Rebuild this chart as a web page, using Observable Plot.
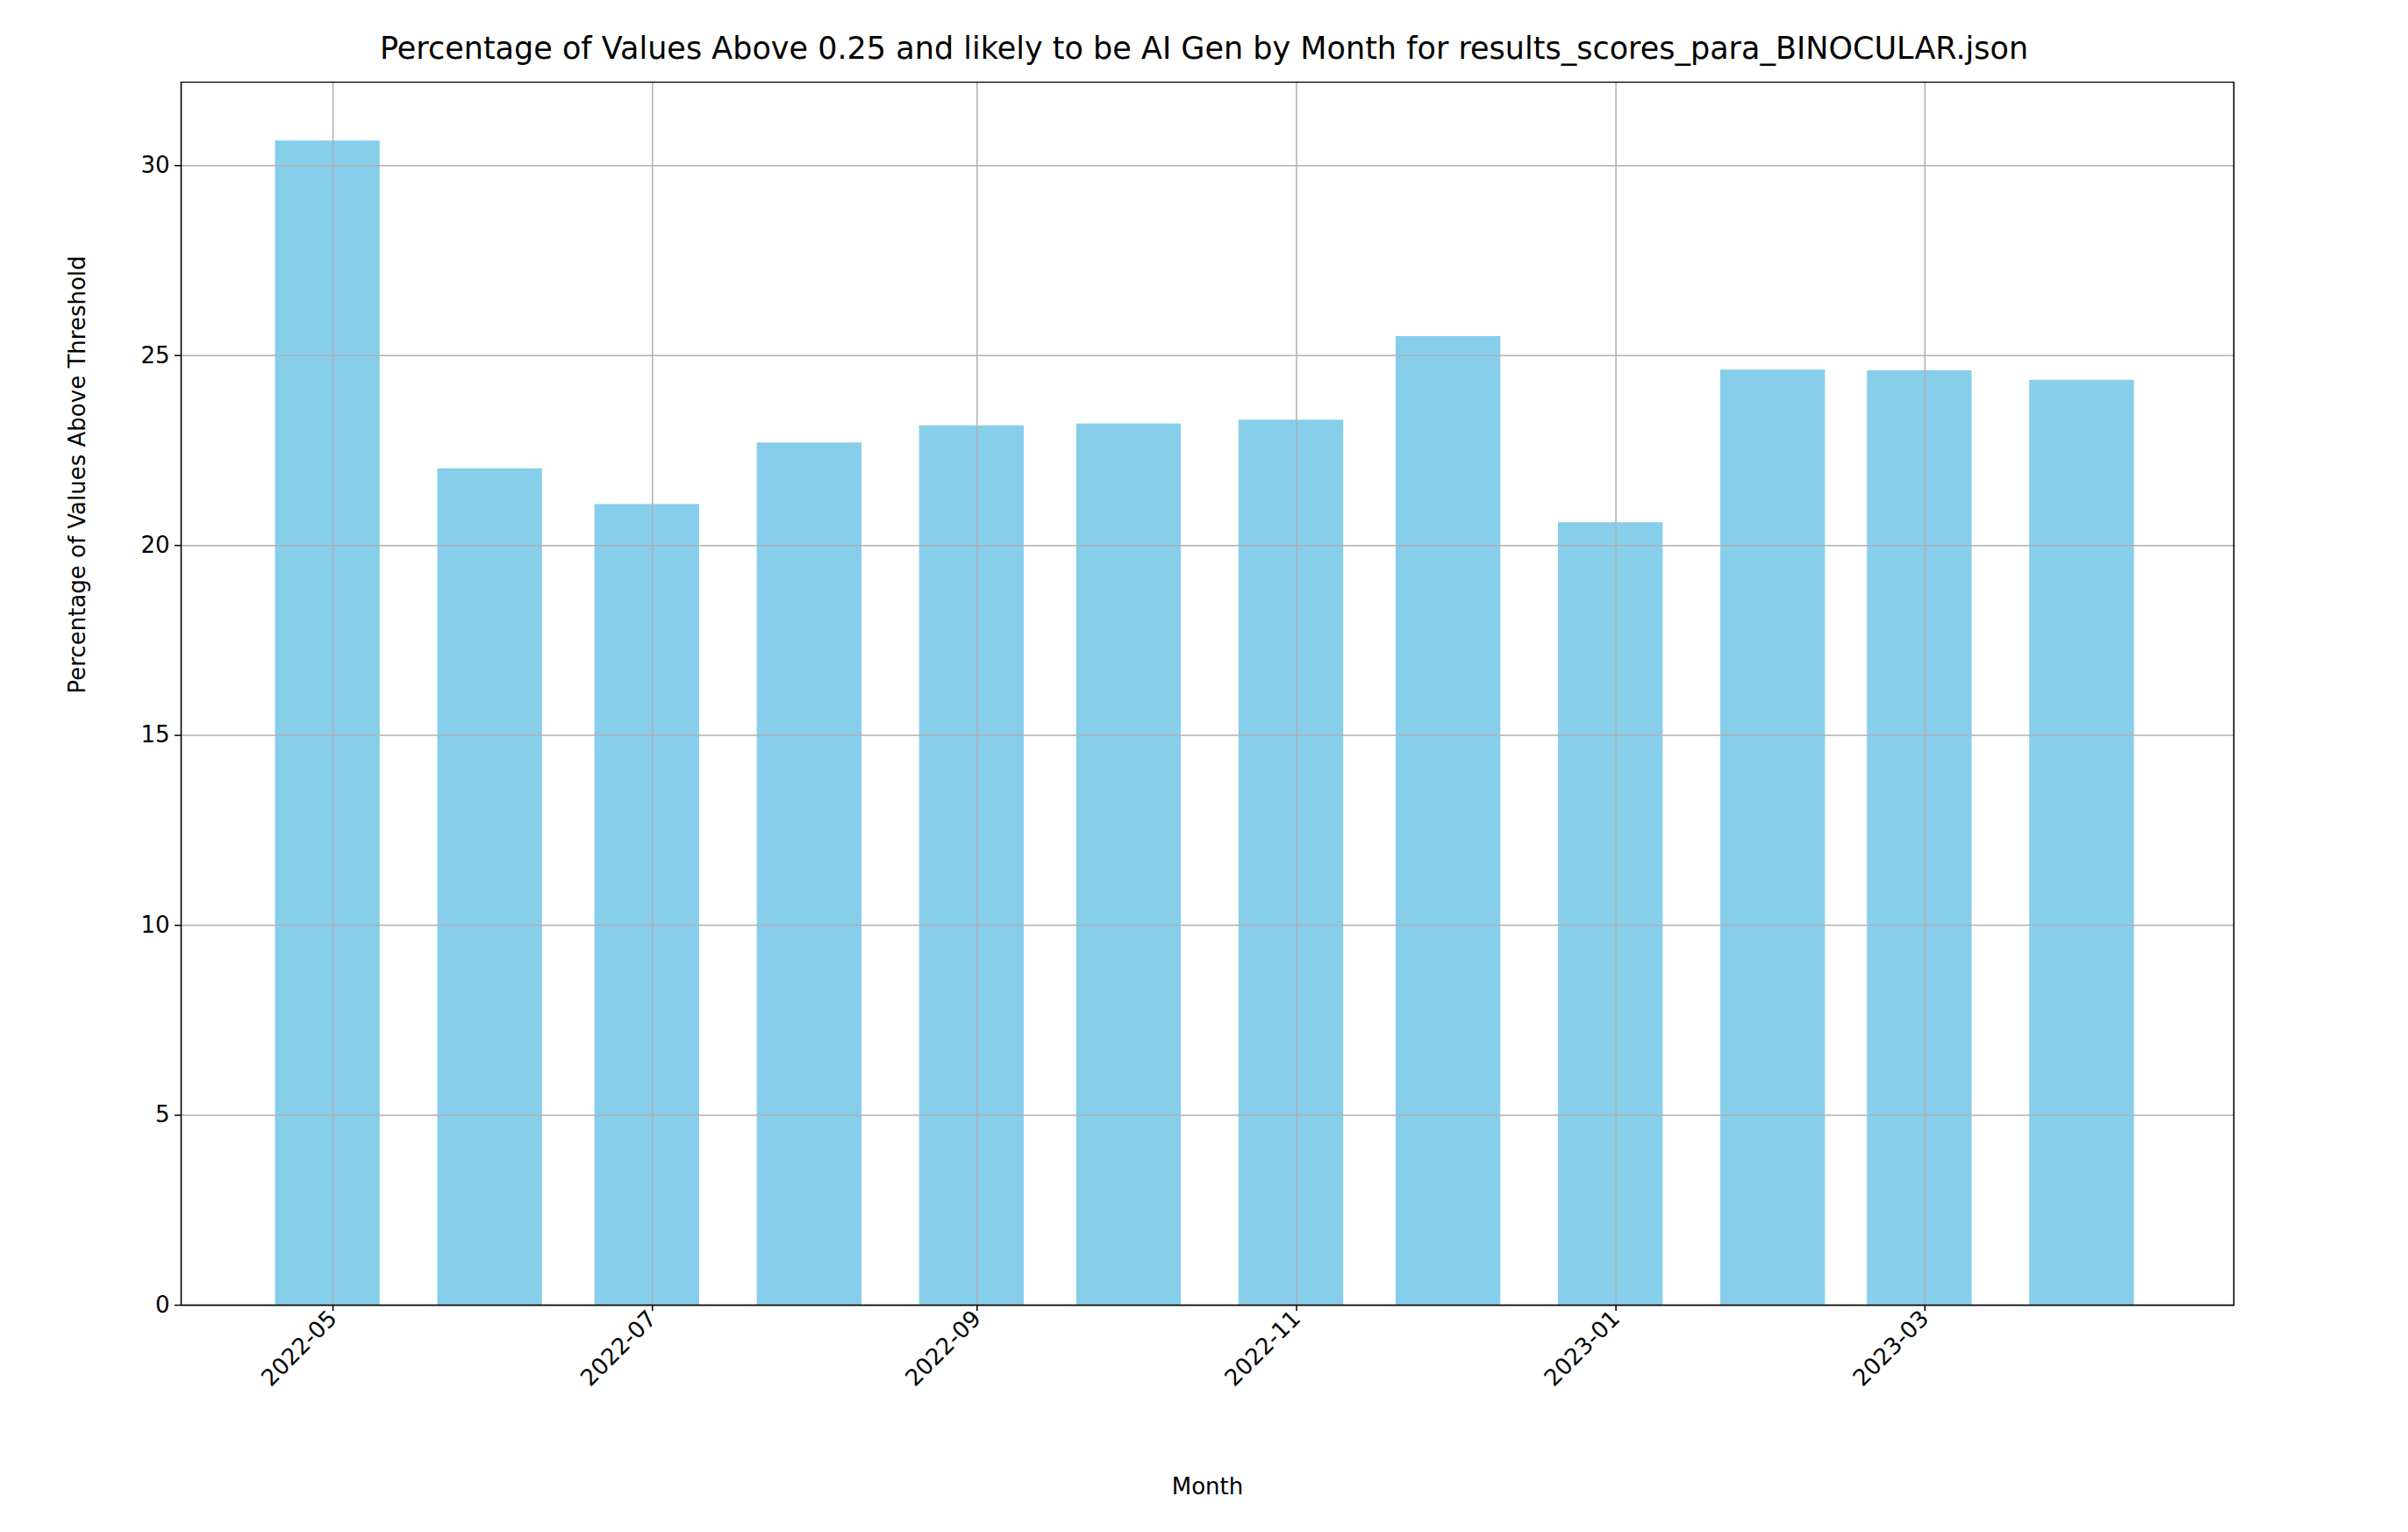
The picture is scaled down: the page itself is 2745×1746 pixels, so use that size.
<!DOCTYPE html>
<html><head><meta charset="utf-8">
<script src="https://cdn.jsdelivr.net/npm/d3@7"></script>
<script src="https://cdn.jsdelivr.net/npm/@observablehq/plot@0.6"></script>
<style>
body{margin:0;background:#fff;font-family:"DejaVu Sans",sans-serif;}
#title{height:93px;width:2745px;text-align:center;font-size:35px;line-height:110px;white-space:nowrap;}
</style></head><body>
<div id="title">Percentage of Values Above 0.25 and likely to be AI Gen by Month for results_scores_para_BINOCULAR.json</div>
<div id="chart"></div>
<script>
const months = ["2022-04-30","2022-05-31","2022-06-30","2022-07-31","2022-08-31","2022-09-30","2022-10-31","2022-11-30","2022-12-31","2023-01-31","2023-02-28","2023-03-31"];
const values = [30.65,22.02,21.08,22.7,23.15,23.2,23.3,25.5,20.6,24.62,24.6,24.35];
const xTickLabels = ["2022-05","2022-07","2022-09","2022-11","2023-01","2023-03"];
const yTicks = [0,5,10,15,20,25,30];
const parse = d3.utcParse("%Y-%m-%d");
const data = months.map((m,i)=>({date:parse(m), value:values[i]}));
const xTicks = xTickLabels.map(s=>d3.utcParse("%Y-%m")(s));
const plot = Plot.plot({
  width:2745, height:1653,
  marginTop:0, marginBottom:259, marginLeft:206, marginRight:199,
  style:{fontFamily:"DejaVu Sans", fontSize:"26px", background:"#fff", color:"black"},
  x:{type:"utc", domain:[parse("2022-04-02"), parse("2023-04-29")]},
  y:{domain:[0,32.2]},
  marks:[
    Plot.rectY(data,{x1:d=>d3.utcDay.offset(d.date,-10), x2:d=>d3.utcDay.offset(d.date,10), y:"value", fill:"#87ceeb"}),
    Plot.gridX(xTicks,{stroke:"#b0b0b0", strokeOpacity:1, strokeWidth:1.5}),
    Plot.gridY(yTicks,{stroke:"#b0b0b0", strokeOpacity:1, strokeWidth:1.5}),
    Plot.axisX(xTicks,{tickFormat:d3.utcFormat("%Y-%m"), tickRotate:-45, tickSize:7, fontSize:26, label:null, textAnchor:"end", tickPadding:4, stroke:"black", strokeWidth:1.5, fill:"black"}),
    Plot.axisY(yTicks,{tickSize:7, fontSize:26, label:null, tickPadding:6, stroke:"black", strokeWidth:1.5, fill:"black"}),
    Plot.frame({stroke:"black", strokeWidth:1.6}),
    Plot.text(["Month"],{frameAnchor:"bottom", dy:215, fontSize:26, fill:"black"}),
    Plot.text(["Percentage of Values Above Threshold"],{frameAnchor:"left", dx:-118, rotate:-90, fontSize:26, fill:"black"})
  ]
});
document.getElementById("chart").appendChild(plot);
</script>
</body></html>
